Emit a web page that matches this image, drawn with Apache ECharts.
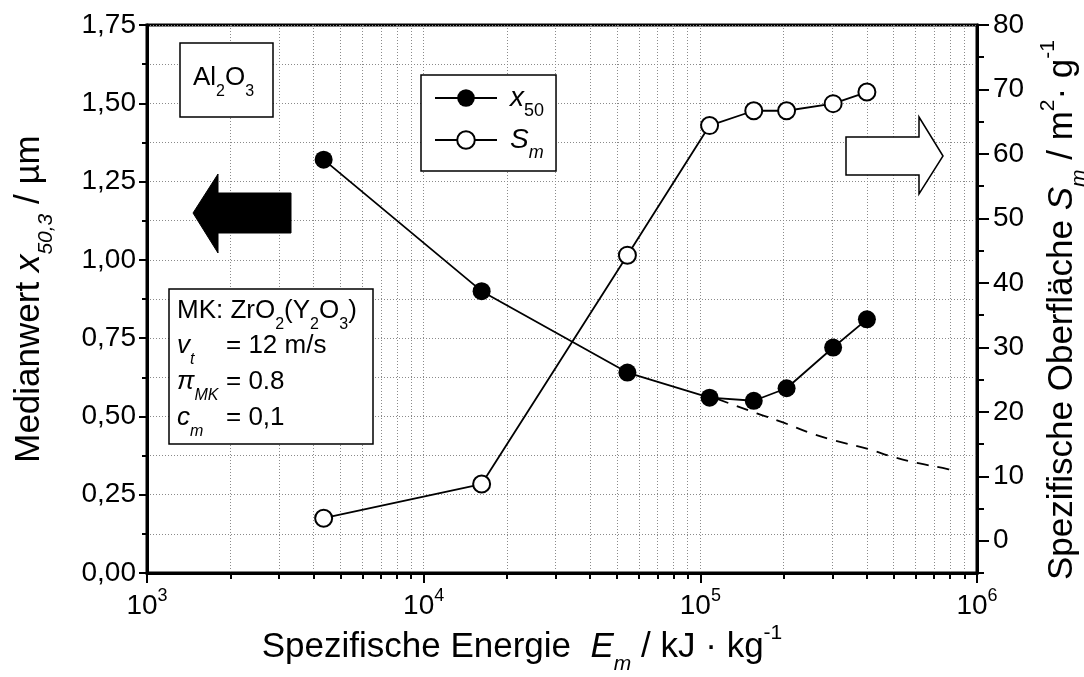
<!DOCTYPE html>
<html>
<head>
<meta charset="utf-8">
<script src="https://cdn.jsdelivr.net/npm/echarts@6/dist/echarts.min.js"></script>
<style>
  html, body { margin: 0; padding: 0; background: #fff; }
  #chart { width: 1084px; height: 677px; }
</style>
</head>
<body>
<div id="chart"></div>
<script>
// Specific grinding energy E_m in kJ/kg
const energy = [4350, 16200, 54500, 108000, 156000, 205000, 302000, 400000];
// Median particle size x50,3 in µm (left axis)
const x50 = [1.32, 0.90, 0.64, 0.56, 0.55, 0.59, 0.72, 0.81];
// Specific surface S_m in m²/g (right axis)
const surface = [3.5, 8.8, 44.3, 64.4, 66.7, 66.7, 67.8, 69.6];
// Extrapolated x50 trend beyond 1e5 kJ/kg (dashed)
const trendEnergy = [115000, 160000, 200000, 250000, 300000, 400000, 500000, 620000, 790000, 850000];
const trendX50 = [0.556, 0.510, 0.480, 0.447, 0.425, 0.397, 0.370, 0.350, 0.331, 0.323];

// Axis ticks
const decadeTicks = [1e3, 1e4, 1e5, 1e6];
const minorEnergyTicks = [];
[1e3, 1e4, 1e5].forEach(d => { for (let k = 2; k <= 9; k++) minorEnergyTicks.push(k * d); });
const surfaceMajorTicks = [0, 10, 20, 30, 40, 50, 60, 70, 80];

const FONT = '"Liberation Sans", Arial, sans-serif';
const GRID_LINE = { color: '#8a8a8a', width: 1, type: [1, 2] };

const chart = echarts.init(document.getElementById('chart'), null, { renderer: 'canvas' });

const titleRich = {
  t: { fontSize: 35, fontFamily: FONT, color: '#000' },
  i: { fontSize: 35, fontFamily: FONT, color: '#000', fontStyle: 'italic' },
  s: { fontSize: 21, fontFamily: FONT, color: '#000', padding: [35, 0, 0, 0] },
  si: { fontSize: 21, fontFamily: FONT, color: '#000', fontStyle: 'italic', padding: [35, 0, 0, 0] },
  p: { fontSize: 21, fontFamily: FONT, color: '#000', padding: [0, 0, 28, 0] }
};

const boxRich = {
  a: { fontSize: 26, fontFamily: FONT, color: '#000' },
  i: { fontSize: 26, fontFamily: FONT, color: '#000', fontStyle: 'italic' },
  s: { fontSize: 16, fontFamily: FONT, color: '#000', padding: [28, 0, 0, 0] },
  si: { fontSize: 16, fontFamily: FONT, color: '#000', fontStyle: 'italic', padding: [28, 0, 0, 0] }
};

function boxText(x, y, text) {
  return {
    type: 'text', x: x, y: y, z: 20,
    style: { text: text, rich: boxRich, verticalAlign: 'middle', align: 'left', fill: '#000' }
  };
}

const option = {
  backgroundColor: '#fff',
  animation: false,
  textStyle: { fontFamily: FONT, color: '#000' },
  grid: {
    left: 147, right: 107, top: 25, bottom: 104,
    show: true, borderColor: '#000', borderWidth: 3,
    outerBoundsMode: 'none'
  },
  legend: {
    data: ['x50', 'Sm'],
    orient: 'vertical',
    left: 421, top: 75,
    itemWidth: 62, itemHeight: 22, itemGap: 6,
    padding: [9, 12, 9, 13],
    backgroundColor: '#fff',
    borderColor: '#000', borderWidth: 1.5, borderRadius: 0,
    z: 20,
    formatter: name => name === 'x50' ? '{g|}{i|x}{s|50}' : '{g|}{i|S}{si|m}',
    textStyle: {
      rich: {
        g: { width: 8 },
        i: { fontSize: 28, fontFamily: FONT, color: '#000', fontStyle: 'italic' },
        s: { fontSize: 18, fontFamily: FONT, color: '#000', padding: [26, 0, 0, 0] },
        si: { fontSize: 18, fontFamily: FONT, color: '#000', fontStyle: 'italic', padding: [26, 0, 0, 0] }
      }
    }
  },
  xAxis: [
    {
      type: 'log', logBase: 10, min: 1e3, max: 1e6,
      position: 'bottom',
      name: '{t|Spezifische Energie  }{i|E}{si|m}{t| / kJ · kg}{p|-1}',
      nameLocation: 'middle', nameGap: 46,
      nameMoveOverlap: false,
      nameTextStyle: { rich: titleRich, padding: [0, 80, 0, 0] },
      axisLine: { show: true, onZero: false, lineStyle: { color: '#000', width: 3 } },
      axisTick: { show: true, inside: false, length: 10, lineStyle: { color: '#000', width: 2 }, customValues: decadeTicks },
      axisLabel: {
        show: true, margin: 14, customValues: decadeTicks,
        formatter: v => '{b|10}{p|' + Math.round(Math.log10(v)) + '}',
        rich: {
          b: { fontSize: 28, fontFamily: FONT, color: '#000' },
          p: { fontSize: 18, fontFamily: FONT, color: '#000', padding: [0, 0, 20, 0] }
        }
      },
      splitLine: { show: true, lineStyle: GRID_LINE }
    },
    {
      type: 'log', logBase: 10, min: 1e3, max: 1e6,
      position: 'bottom',
      axisLine: { show: false, onZero: false },
      axisTick: { show: true, inside: false, length: 6, lineStyle: { color: '#000', width: 2 }, customValues: minorEnergyTicks },
      axisLabel: { show: false },
      splitLine: { show: true, lineStyle: GRID_LINE }
    }
  ],
  yAxis: [
    {
      type: 'value', min: 0, max: 1.75, interval: 0.25,
      position: 'left',
      name: '{t|Medianwert }{i|x}{si|50,3}{t| / µm}',
      nameLocation: 'middle', nameGap: 90, nameRotate: 90,
      nameMoveOverlap: false,
      nameTextStyle: { rich: titleRich },
      axisLine: { show: true, onZero: false, lineStyle: { color: '#000', width: 3 } },
      axisTick: { show: true, inside: false, length: 8, lineStyle: { color: '#000', width: 2 } },
      minorTick: { show: true, splitNumber: 2, length: 5, lineStyle: { color: '#000', width: 2 } },
      axisLabel: {
        show: true, margin: 11, fontSize: 28, fontFamily: FONT, color: '#000',
        formatter: v => v.toFixed(2).replace('.', ',')
      },
      splitLine: { show: true, lineStyle: GRID_LINE },
      minorSplitLine: { show: true, lineStyle: GRID_LINE }
    },
    {
      type: 'value', min: -5, max: 80, interval: 5,
      position: 'right',
      name: '{t|Spezifische Oberfläche }{i|S}{si|m}{t| / m}{p|2}{t|· g}{p|-1}',
      nameLocation: 'middle', nameGap: 57, nameRotate: 90,
      nameMoveOverlap: false,
      nameTextStyle: { rich: titleRich, padding: [0, 22, 0, 0] },
      axisLine: { show: true, onZero: false, lineStyle: { color: '#000', width: 3 } },
      axisTick: { show: true, inside: false, length: 7, lineStyle: { color: '#000', width: 2 } },
      axisLabel: {
        show: true, margin: 16, fontSize: 28, fontFamily: FONT, color: '#000',
        formatter: v => (v >= 0 && v % 10 === 0) ? String(v) : ''
      },
      splitLine: { show: false }
    },
    {
      type: 'value', min: -5, max: 80,
      position: 'right',
      axisLine: { show: false, onZero: false },
      axisTick: { show: true, inside: false, length: 12, lineStyle: { color: '#000', width: 2 }, customValues: surfaceMajorTicks },
      axisLabel: { show: false },
      splitLine: { show: false }
    }
  ],
  series: [
    {
      name: 'x50', type: 'line', xAxisIndex: 0, yAxisIndex: 0,
      data: energy.map((e, i) => [e, x50[i]]),
      symbol: 'circle', symbolSize: 18,
      itemStyle: { color: '#000' },
      lineStyle: { color: '#000', width: 1.8 },
      z: 4
    },
    {
      name: 'Sm', type: 'line', xAxisIndex: 0, yAxisIndex: 1,
      data: energy.map((e, i) => [e, surface[i]]),
      symbol: 'emptyCircle', symbolSize: 17,
      itemStyle: { color: '#000', borderColor: '#000', borderWidth: 1.3 },
      lineStyle: { color: '#000', width: 1.8 },
      z: 4
    },
    {
      name: 'trend', type: 'line', xAxisIndex: 0, yAxisIndex: 0,
      data: trendEnergy.map((e, i) => [e, trendX50[i]]),
      symbol: 'none', smooth: true,
      lineStyle: { color: '#000', width: 1.8, type: [12, 9] },
      z: 3
    }
  ],
  graphic: [
    // Al2O3 label box
    { type: 'rect', shape: { x: 180, y: 43, width: 93, height: 74 }, z: 19,
      style: { fill: '#fff', stroke: '#000', lineWidth: 1.5 } },
    boxText(193, 78, '{a|Al}{s|2}{a|O}{s|3}'),
    // process parameter box
    { type: 'rect', shape: { x: 169, y: 289, width: 204, height: 155 }, z: 19,
      style: { fill: '#fff', stroke: '#000', lineWidth: 1.5 } },
    boxText(177, 311, '{a|MK: ZrO}{s|2}{a|(Y}{s|2}{a|O}{s|3}{a|)}'),
    boxText(177, 346, '{i|v}{si|t}'),
    boxText(177, 382, '{i|π}{si|MK}'),
    boxText(177, 418, '{i|c}{si|m}'),
    boxText(226, 346, '{a|= 12 m/s}'),
    boxText(226, 382, '{a|= 0.8}'),
    boxText(226, 418, '{a|= 0,1}'),
    // left arrow: x50 belongs to the left axis
    { type: 'polygon', z: 19,
      shape: { points: [[193, 213], [218, 174], [218, 193], [291, 193], [291, 233], [218, 233], [218, 253]] },
      style: { fill: '#000', stroke: '#000', lineWidth: 1 } },
    // right arrow: S_m belongs to the right axis
    { type: 'polygon', z: 19,
      shape: { points: [[943, 156], [919, 117], [919, 137], [846, 137], [846, 175], [919, 175], [919, 194]] },
      style: { fill: '#fff', stroke: '#000', lineWidth: 1.5 } }
  ]
};

chart.setOption(option);
</script>
</body>
</html>
